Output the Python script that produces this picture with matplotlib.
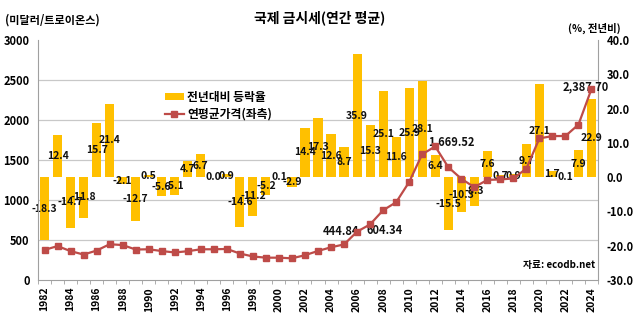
import matplotlib
matplotlib.use("Agg")
import matplotlib.pyplot as plt
import numpy as np

plt.rcParams['font.family'] = ['Noto Sans CJK KR', 'DejaVu Sans']
plt.rcParams['font.weight'] = 'bold'

years = list(range(1982, 2025))
yoy_pct = [-18.3, 12.4, -14.7, -11.8, 15.7, 21.4, -2.1, -12.7, 0.5, -5.6,
           -5.1, 4.7, 6.7, 0.0, 0.9, -14.6, -11.2, -5.2, 0.1, -2.9,
           14.4, 17.3, 12.6, 8.7, 35.9, 15.3, 25.1, 11.6, 25.9, 28.1,
           6.4, -15.5, -10.3, -8.3, 7.6, 0.7, 0.9, 9.7, 27.1, 1.7,
           0.1, 7.9, 22.9]
avg_price = [376, 424, 361, 318, 368, 447, 437, 381, 384, 362,
             344, 360, 384, 384, 388, 331, 294, 279, 279, 271,
             310, 363, 409, 444.84, 604.34, 695, 872, 972, 1225, 1572,
             1669.52, 1411, 1266, 1160, 1251, 1257, 1269, 1393, 1770, 1799,
             1800, 1943, 2387.70]
price_labels = {2005: "444.84", 2006: "604.34", 2012: "1,669.52", 2024: "2,387.70"}
label_offsets = {2005: (-2, 9.5), 2006: (20, 1), 2012: (11.5, 3), 2024: (-4, 1.5)}
year_ticks = list(range(1982, 2025, 2))
price_ticks = [0, 500, 1000, 1500, 2000, 2500, 3000]
pct_ticks = [-30, -20, -10, 0, 10, 20, 30, 40]

BAR_C = '#FFC000'
LINE_C = '#BE4B48'
GRID_C = '#C8C8C8'

fig = plt.figure(figsize=(6.4, 3.3), dpi=100)
ax = fig.add_axes([38/640, 50/330, 560/640, 240/330])
x = np.arange(len(years))

# bars on % axis (right)
ax.set_xlim(-0.5, len(years) - 0.5)
ax.set_ylim(-30, 40)
bars = ax.bar(x, yoy_pct, width=0.7, color=BAR_C, zorder=2, label='전년대비 등락율')
ax.bar_label(bars, labels=[f"{v:.1f}" for v in yoy_pct], label_type='center',
             fontsize=7.5, fontweight='bold', color='#111111', zorder=5)
ax.set_xticks(np.arange(-0.5, len(years), 1), minor=True)
ax.set_xticks([years.index(y) for y in year_ticks])
ax.set_xticklabels([str(y) for y in year_ticks], rotation=90, fontsize=7.5, fontweight='bold')
ax.tick_params(axis='x', which='major', length=0, pad=5)
ax.tick_params(axis='x', which='minor', length=3, color='#A0A0A0', direction='out')

# line on price axis (left)
ax2 = ax.twinx()
ax2.set_ylim(0, 3000)
ax2.yaxis.tick_left()
ax2.yaxis.set_label_position('left')
ax2.set_yticks(price_ticks)
ax2.tick_params(axis='y', length=0, labelsize=8, pad=6)

ax.yaxis.tick_right()
ax.yaxis.set_label_position('right')
ax.set_yticks(pct_ticks)
ax.set_yticklabels([f"{v:.1f}" for v in pct_ticks])
grid_pos = [-30 + p / 3000 * 70 for p in price_ticks]
ax.set_yticks(grid_pos, minor=True)
ax.grid(axis='y', which='minor', color=GRID_C, linewidth=0.9, zorder=0)
ax.tick_params(axis='y', which='minor', length=0, left=False, right=False)
ax.tick_params(axis='y', which='major', length=0, labelsize=8, pad=6,
               left=False, labelleft=False, right=True, labelright=True)
for s in ['top', 'left']:
    ax.spines[s].set_visible(False)
for s in ['bottom', 'right']:
    ax.spines[s].set_color('#A0A0A0')

for lab in ax2.get_yticklabels() + ax.get_yticklabels():
    lab.set_fontweight('bold')
line, = ax2.plot(x, avg_price, color=LINE_C, linewidth=1.6, marker='s',
                 markersize=4.5, label='연평균가격(좌측)', zorder=4)
for yr, txt in price_labels.items():
    i = years.index(yr)
    ax2.annotate(txt, (x[i], avg_price[i]), xytext=label_offsets[yr],
                 textcoords='offset points', ha='center', va='center',
                 fontsize=8, fontweight='bold', color='#111111')
for s in ['top', 'right', 'bottom']:
    ax2.spines[s].set_visible(False)
ax2.spines['left'].set_color('#A0A0A0')

leg = ax2.legend(handles=[bars, line], loc='upper left',
                 bbox_to_anchor=(160/640, 1 - 86/330), bbox_transform=fig.transFigure,
                 frameon=False, fontsize=8.5, handlelength=1.6, handleheight=0.5,
                 labelspacing=0.35, handletextpad=0.3, borderaxespad=0)

fig.text(0.5, 1 - 18/330, '국제 금시세(연간 평균)', ha='center', va='center',
         fontsize=10, fontweight='bold')
fig.text(5/640, 1 - 20/330, '(미달러/트로이온스)', ha='left', va='center',
         fontsize=8, fontweight='bold')
fig.text(594/640, 1 - 28/330, '(%, 전년비)', ha='center', va='center',
         fontsize=7.5, fontweight='bold')
fig.text(595/640, 1 - 265/330, '자료: ecodb.net', ha='right', va='center',
         fontsize=7, fontweight='bold')

fig.savefig('out.png', dpi=100)
